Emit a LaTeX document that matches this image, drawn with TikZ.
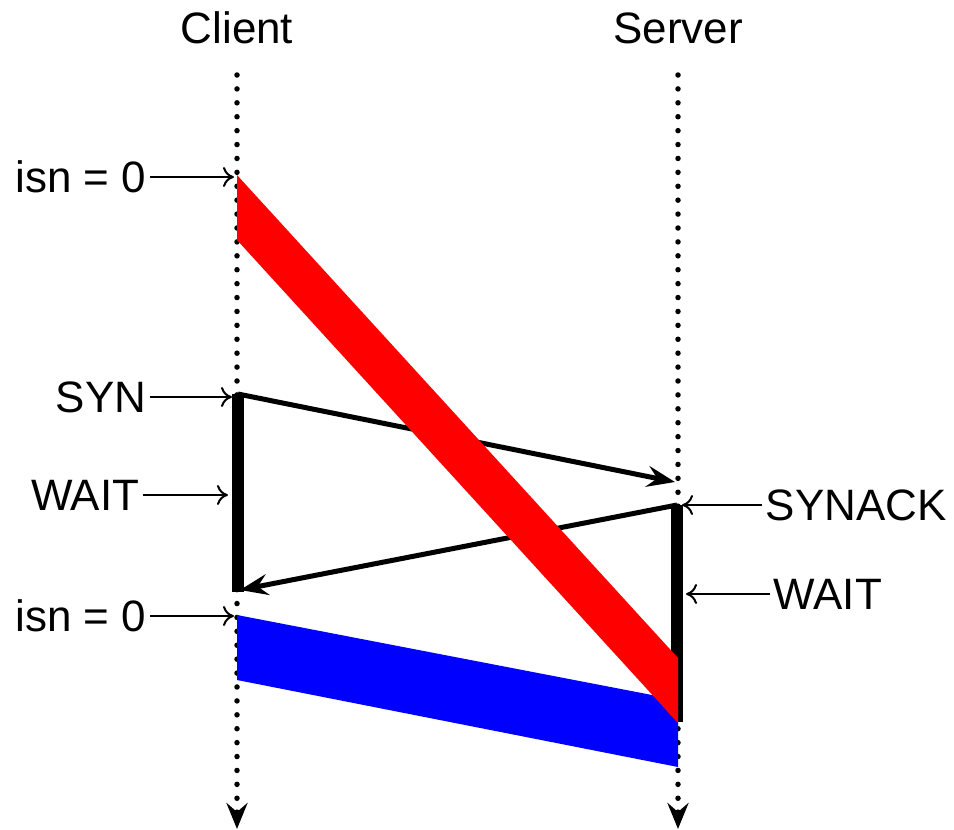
\documentclass[tikz,border=0pt]{standalone}
\usepackage{fontspec}
\setmainfont{Liberation Sans}
\usetikzlibrary{arrows.meta}

\begin{document}
\begin{tikzpicture}[
			     x=0.01cm, y=-0.01cm,
			     font=\fontsize{12.5}{15}\selectfont,
			     lifeline/.style={line width=0.055cm, line cap=round, dash pattern=on 0pt off 0.139cm,
			                      -{Stealth[length=0.26cm,width=0.21cm,inset=0.09cm]}},
			     waitbar/.style={line width=0.115cm},
			     msg/.style={line width=0.05cm, -{Stealth[length=0.28cm,width=0.21cm,inset=0.1cm]}},
			     pointer/.style={line width=0.02cm, -{To[length=0.11cm,width=0.2cm]}},
			     lbl/.style={inner xsep=0.03cm, inner ysep=0pt}
			     ]
\useasboundingbox (0,0) rectangle (954,830);

% the two hosts and their time lines
\node[lbl] (client) at (237,28) {Client};
\node[lbl] (server) at (678,28) {Server};
\coordinate (ctop) at (237,75);
\coordinate (cbot) at (237,829);
\coordinate (stop) at (678,75);
\coordinate (sbot) at (678,829);
\draw[lifeline] (ctop) -- (cbot);
\draw[lifeline] (stop) -- (sbot);

% handshake
\coordinate (syn0) at (238,394);
\coordinate (syn1) at (675,482);
\coordinate (cwait) at (238,592);
\coordinate (ack0) at (677,505);
\coordinate (ack1) at (240,590);
\coordinate (swait) at (677,722);
\draw[waitbar] (syn0) -- (cwait);
\draw[waitbar] (ack0) -- (swait);
\draw[msg] (syn0) -- (syn1);
\draw[msg] (ack0) -- (ack1);

% old and new connection
\fill[blue] (237,615) -- (678,700) -- (678,767) -- (237,680) -- cycle;
\fill[red] (237,175) -- (678,658) -- (678,723) -- (237,240) -- cycle;

% labels
\node[lbl, anchor=east] (isnA) at (150,177) {isn = 0};
\node[lbl, anchor=east] (syn) at (150,397) {SYN};
\node[lbl, anchor=east] (waitA) at (143,495) {WAIT};
\node[lbl, anchor=east] (isnB) at (150,616) {isn = 0};
\node[lbl, anchor=west] (synack) at (762,505) {SYNACK};
\node[lbl, anchor=west] (waitB) at (770,594) {WAIT};
\coordinate (isnAtip) at (234,177);
\coordinate (syntip) at (232,397);
\coordinate (waitAtip) at (228,495);
\coordinate (isnBtip) at (234,616);
\coordinate (synacktip) at (682,505);
\coordinate (waitBtip) at (686,594);
\draw[pointer] (isnA) -- (isnAtip);
\draw[pointer] (syn) -- (syntip);
\draw[pointer] (waitA) -- (waitAtip);
\draw[pointer] (isnB) -- (isnBtip);
\draw[pointer] (synack) -- (synacktip);
\draw[pointer] (waitB) -- (waitBtip);
\end{tikzpicture}
\end{document}
